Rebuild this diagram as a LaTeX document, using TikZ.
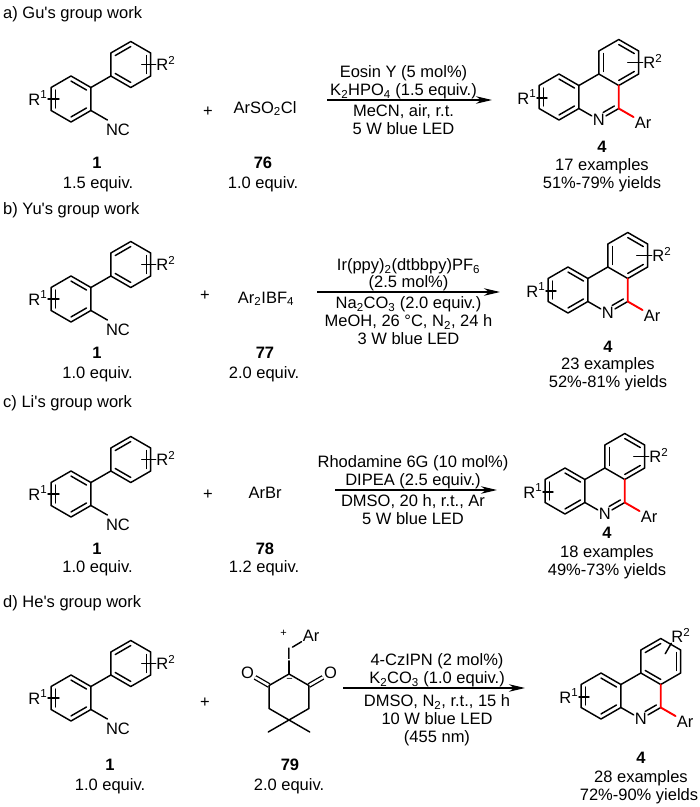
\documentclass[tikz,border=0pt]{standalone}
\usepackage{fontspec}
\setmainfont{Liberation Sans}
\usetikzlibrary{calc,arrows.meta}

\tikzset{
  bond/.style={line width=1.45pt, line cap=round, line join=round},
  redbond/.style={bond, red, line width=1.9pt},
  cobond/.style={line width=1.3pt, double, double distance=2.4pt},
  rxn/.style={line width=1.3pt, -{Stealth[length=16pt, width=7.5pt, inset=5pt]}},
  atom/.style={inner sep=1pt},
  lbl/.style={anchor=base, inner sep=0pt},
  cond/.style={align=center, inner sep=0pt},
  charge/.style={inner sep=0pt, font=\fontsize{11}{11}\selectfont},
}

% ring corners: 1 top, 2 upper right, 3 lower right, 4 bottom, 5 lower left, 6 upper left
\newcommand{\hexat}[3]{%
  \coordinate (#1) at (#2,#3);
  \foreach \vi/\va in {1/-90,2/-30,3/30,4/90,5/150,6/210}
    {\coordinate (#1-\vi) at ($(#1)+(\va:23)$);}
}
\newcommand{\hexdraw}[1]{\draw[bond] (#1-1)--(#1-2)--(#1-3)--(#1-4)--(#1-5)--(#1-6)--cycle;}
\newcommand{\inbond}[3]{\draw[bond] ($(#1)!0.78!(#1-#2)$) -- ($(#1)!0.78!(#1-#3)$);}

\newcommand{\biaryl}[3]{%
  \hexat{#1L}{#2}{#3}
  \hexat{#1U}{#2+59.76}{#3-34.5}
  \hexdraw{#1L}
  \hexdraw{#1U}
  \inbond{#1L}{1}{2}
  \inbond{#1L}{3}{4}
  \inbond{#1L}{5}{6}
  \inbond{#1U}{6}{1}
  \inbond{#1U}{2}{3}
  \inbond{#1U}{4}{5}
  \draw[bond] (#1L-2) -- (#1U-5);
  \coordinate (#1nc) at ($(#1L-3)+(30:19)$);
  \draw[bond] (#1L-3) -- (#1nc);
  \node[anchor=north west, inner sep=0pt] (#1NC) at ($(#1nc)+(-1.5,3.5)$) {NC};
  \draw[bond] ($(#1L)+(-23,0)$) -- ($(#1L)+(-12,0)$);
  \node[anchor=base east, inner sep=0pt] (#1R1) at ($(#1L)+(-23.5,6)$) {R\textsuperscript{1}};
  \draw[bond] ($(#1U)+(11,0)$) -- ($(#1U)+(25,0)$);
  \node[anchor=base west, inner sep=0pt] (#1R2) at ($(#1U)+(25.5,6)$) {R\textsuperscript{2}};
}

\newcommand{\phen}[3]{%
  \hexat{#1A}{#2}{#3}
  \hexat{#1B}{#2+39.84}{#3}
  \hexat{#1C}{#2+59.76}{#3-34.5}
  \hexdraw{#1A}
  \hexdraw{#1C}
  \inbond{#1A}{1}{2}
  \inbond{#1A}{3}{4}
  \inbond{#1A}{5}{6}
  \node[atom] (#1N) at (#1B-4) {N};
  \draw[bond] (#1A-2) -- (#1C-5);
  \draw[bond] (#1A-3) -- (#1N) -- (#1B-3);
  \draw[bond, shorten <=5pt] ($(#1B)!0.78!(#1B-4)$) -- ($(#1B)!0.78!(#1B-3)$);
  \node[atom] (#1Ar) at ($(#1B-3)+(30:28)$) {Ar};
  \draw[redbond] (#1B-2) -- (#1B-3) -- (#1Ar);
  \draw[bond] ($(#1A)+(-22,1)$) -- ($(#1A)+(-12,1)$);
  \node[anchor=base east, inner sep=0pt] (#1R1) at ($(#1A)+(-22.5,7)$) {R\textsuperscript{1}};
}
\newcommand{\rtwoside}[1]{%
  \inbond{#1C}{5}{6}
  \inbond{#1C}{1}{2}
  \inbond{#1C}{3}{4}
  \draw[bond] ($(#1C)+(9,0)$) -- ($(#1C)+(24,0)$);
  \node[anchor=base west, inner sep=0pt] (#1R2) at ($(#1C)+(24.5,6)$) {R\textsuperscript{2}};
}
\newcommand{\rtwotop}[1]{%
  \inbond{#1C}{6}{1}
  \inbond{#1C}{2}{3}
  \inbond{#1C}{4}{5}
  \draw[bond] ($(#1C)+(-60:9)$) -- ($(#1C)+(-60:21)$);
  \node[anchor=base west, inner sep=0pt] (#1R2) at ($(#1C)+(-60:21)+(0,-0.5)$) {R\textsuperscript{2}};
}

\begin{document}
\begin{tikzpicture}[x=1pt, y=-1pt, font=\fontsize{16.5}{18}\selectfont]
  \useasboundingbox (0,0) rectangle (700,807);

  % a)
  \node[anchor=base west, inner sep=0pt] (ta) at (3,18.5) {a) Gu\textquotesingle s group work};
  \biaryl{a}{71}{99}
  \node[lbl] (a-plus) at (208,116.5) {+};
  \node[lbl] (a-rg) at (265,113) {ArSO\textsubscript{2}Cl};
  \node[lbl] (a-n1) at (97,168) {\textbf{1}};
  \node[lbl] (a-q1) at (98,188) {1.5 equiv.};
  \node[lbl] (a-n2) at (263,168) {\textbf{76}};
  \node[lbl] (a-q2) at (263,188) {1.0 equiv.};
  \coordinate (a-s) at (327,100);
  \coordinate (a-e) at (492,100);
  \draw[rxn] (a-s) -- node[above, cond, xshift=-6pt] (a-up) {Eosin Y (5 mol\%)\\K\textsubscript{2}HPO\textsubscript{4} (1.5 equiv.)}
    node[below, cond, xshift=-6pt, yshift=-4pt] (a-dn) {MeCN, air, r.t.\\5 W blue LED} (a-e);
  \phen{pa}{559}{97}
  \rtwoside{pa}
  \node[lbl] (a-n4) at (602,152) {\textbf{4}};
  \node[lbl] (a-ex) at (602,170) {17 examples};
  \node[lbl] (a-yd) at (602,188) {51\%-79\% yields};

  % b)
  \node[anchor=base west, inner sep=0pt] (tb) at (3,214) {b) Yu\textquotesingle s group work};
  \biaryl{b}{71}{299}
  \node[lbl] (b-plus) at (205,300) {+};
  \node[lbl] (b-rg) at (266,303) {Ar\textsubscript{2}IBF\textsubscript{4}};
  \node[lbl] (b-n1) at (97,358) {\textbf{1}};
  \node[lbl] (b-q1) at (97.5,378) {1.0 equiv.};
  \node[lbl] (b-n2) at (265,358) {\textbf{77}};
  \node[lbl] (b-q2) at (264,378) {2.0 equiv.};
  \coordinate (b-s) at (317,292);
  \coordinate (b-e) at (500,292);
  \draw[rxn] (b-s) -- node[above, cond, font=\fontsize{16.5}{17}\selectfont] (b-up) {Ir(ppy)\textsubscript{2}(dtbbpy)PF\textsubscript{6}\\(2.5 mol\%)}
    node[below, cond, yshift=-4pt] (b-dn) {Na\textsubscript{2}CO\textsubscript{3} (2.0 equiv.)\\MeOH, 26 °C, N\textsubscript{2}, 24 h\\3 W blue LED} (b-e);
  \phen{pb}{568}{290}
  \rtwoside{pb}
  \node[lbl] (b-n4) at (608,352) {\textbf{4}};
  \node[lbl] (b-ex) at (608,369) {23 examples};
  \node[lbl] (b-yd) at (608,387) {52\%-81\% yields};

  % c)
  \node[anchor=base west, inner sep=0pt] (tc) at (3,407) {c) Li\textquotesingle s group work};
  \biaryl{c}{71}{494}
  \node[lbl] (c-plus) at (208,499) {+};
  \node[lbl] (c-rg) at (265,498) {ArBr};
  \node[lbl] (c-n1) at (97,554) {\textbf{1}};
  \node[lbl] (c-q1) at (97.5,572) {1.0 equiv.};
  \node[lbl] (c-n2) at (265,554) {\textbf{78}};
  \node[lbl] (c-q2) at (264,572) {1.2 equiv.};
  \coordinate (c-s) at (335,490);
  \coordinate (c-e) at (497,490);
  \draw[rxn] (c-s) -- node[above, cond, xshift=-3pt] (c-up) {Rhodamine 6G (10 mol\%)\\DIPEA (2.5 equiv.)}
    node[below, cond, xshift=-3pt, yshift=-4pt] (c-dn) {DMSO, 20 h, r.t., Ar\\5 W blue LED} (c-e);
  \phen{pc}{565}{491}
  \rtwoside{pc}
  \node[lbl] (c-n4) at (607,538) {\textbf{4}};
  \node[lbl] (c-ex) at (607,557) {18 examples};
  \node[lbl] (c-yd) at (607,575) {49\%-73\% yields};

  % d)
  \node[anchor=base west, inner sep=0pt] (td) at (3,607) {d) He\textquotesingle s group work};
  \biaryl{d}{71}{698}
  \node[lbl] (d-plus) at (205,707) {+};
  \hexat{y}{289}{697}
  \node[atom] (yO1) at ($(y-6)+(210:25)$) {O};
  \node[atom] (yO2) at ($(y-2)+(-30:25)$) {O};
  \draw[cobond] (y-6) -- (yO1);
  \draw[cobond] (y-2) -- (yO2);
  \hexdraw{y}
  \draw[bond] ($(y-4)+(150:24)$) -- (y-4) -- ($(y-4)+(30:24)$);
  \node[atom] (yI) at (289,654) {I};
  \node[atom] (yAr) at (311,636) {Ar};
  \draw[bond] (y-1) -- (yI);
  \draw[bond] (yI.north east) -- (yAr);
  \node[charge] (yplus) at (283.5,633) {+};
  \node[charge] (yminus) at (289.5,680) {−};
  \node[lbl] (d-n1) at (110,770) {\textbf{1}};
  \node[lbl] (d-q1) at (110,790) {1.0 equiv.};
  \node[lbl] (d-n2) at (290,770) {\textbf{79}};
  \node[lbl] (d-q2) at (289,790) {2.0 equiv.};
  \coordinate (d-s) at (343,688);
  \coordinate (d-e) at (525,688);
  \draw[rxn] (d-s) -- node[above, cond, xshift=3pt] (d-up) {4-CzIPN (2 mol\%)\\K\textsubscript{2}CO\textsubscript{3} (1.0 equiv.)}
    node[below, cond, xshift=3pt, yshift=-6pt] (d-dn) {DMSO, N\textsubscript{2}, r.t., 15 h\\10 W blue LED\\(455 nm)} (d-e);
  \phen{pd}{601}{696}
  \rtwotop{pd}
  \node[lbl] (d-n4) at (641,763) {\textbf{4}};
  \node[lbl] (d-ex) at (641,782) {28 examples};
  \node[lbl] (d-yd) at (639,800) {72\%-90\% yields};
\end{tikzpicture}
\end{document}
